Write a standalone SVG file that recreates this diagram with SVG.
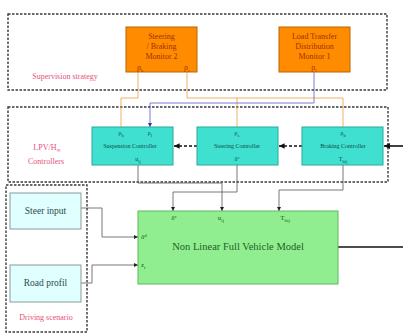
<svg xmlns="http://www.w3.org/2000/svg" width="403" height="336" viewBox="0 0 403 336">
<style>
.frame{fill:none;stroke:#3a3a3a;stroke-width:1.4;stroke-dasharray:2.5,1.5}
.mon{fill:#ff8c00;stroke:#b86500;stroke-width:1}
.ctl{fill:#40e0d0;stroke:#2aa89a;stroke-width:1}
.veh{fill:#90ee90;stroke:#5cb85c;stroke-width:1}
.inp{fill:#e0ffff;stroke:#8a9a9a;stroke-width:1}
.t{font-family:"Liberation Serif","DejaVu Serif",serif;text-anchor:middle}
.mt{fill:#a03000;font-size:8px}
.ct{fill:#0b4d46;font-size:6px}
.vt{fill:#1d5e1d}
.it{fill:#2e4b4b;font-size:9.5px}
.lab{fill:#e8507a;font-size:8px}
.w{fill:none;stroke:#555;stroke-width:0.8}
.wo{fill:none;stroke:#e8a040;stroke-width:0.8}
.wb{fill:none;stroke:#5a5ad0;stroke-width:0.8}
.thick{fill:none;stroke:#111;stroke-width:1.6}
.dash{fill:none;stroke:#111;stroke-width:1.4;stroke-dasharray:3,2}
</style>
<defs>
<marker id="ah" viewBox="0 0 10 10" refX="10" refY="5" markerWidth="5" markerHeight="5" orient="auto"><path d="M0,0L10,5L0,10z" fill="#222"/></marker>
<marker id="ahb" viewBox="0 0 10 10" refX="10" refY="5" markerWidth="5" markerHeight="5" orient="auto"><path d="M0,0L10,5L0,10z" fill="#3030a0"/></marker>
<marker id="ahk" viewBox="0 0 10 10" refX="10" refY="5" markerWidth="4" markerHeight="4" orient="auto"><path d="M0,0L10,5L0,10z" fill="#111"/></marker>
</defs>

<g id="frames">
<rect class="frame" x="8" y="14" width="379" height="76"/>
<rect class="frame" x="8" y="107" width="380" height="75"/>
<rect class="frame" x="6" y="185" width="81" height="147"/>
<text class="t lab" x="65" y="79" font-size="7.5">Supervision strategy</text>
<text class="t lab" x="47" y="150" font-size="8.5">LPV/H<tspan font-size="6" dy="2">∞</tspan></text>
<text class="t lab" x="46" y="164">Controllers</text>
<text class="t lab" x="46" y="320">Driving scenario</text>
</g>

<g id="connectors">
<polyline class="wo" points="138,72 138,98 121,98 121,127"/>
<polyline class="wo" points="187,72 187,98 343,98 343,127"/>
<line class="wo" x1="237" y1="98" x2="237" y2="127"/>
<polyline class="wb" points="314,72 314,103 150,103 150,127" marker-end="url(#ahb)"/>
<line class="dash" x1="197" y1="146" x2="174" y2="146" marker-end="url(#ahk)"/>
<line class="dash" x1="302" y1="146" x2="279" y2="146" marker-end="url(#ahk)"/>
<line class="thick" x1="403" y1="146" x2="384" y2="146" marker-end="url(#ahk)"/>
<polyline class="w" points="138,165 138,183 222,183 222,211" marker-end="url(#ah)"/>
<polyline class="w" points="237,165 237,192 173,192 173,211" marker-end="url(#ah)"/>
<polyline class="w" points="343,165 343,190 279,190 279,211" marker-end="url(#ah)"/>
<polyline class="w" points="81,208 102,208 102,237 138,237" marker-end="url(#ah)"/>
<polyline class="w" points="81,283 92,283 92,265 138,265" marker-end="url(#ah)"/>
<line class="thick" x1="338" y1="247" x2="403" y2="247"/>
</g>

<g id="monitor2">
<rect class="mon" x="126" y="27" width="71" height="45"/>
<text class="t mt" x="161.5" y="39">Steering</text>
<text class="t mt" x="161.5" y="49">/ Braking</text>
<text class="t mt" x="161.5" y="59">Monitor 2</text>
<text class="t mt" x="140" y="70" font-size="6">ρ<tspan font-size="4.5" dy="1.5">b</tspan></text>
<text class="t mt" x="187" y="70" font-size="6">ρ<tspan font-size="4.5" dy="1.5">s</tspan></text>
</g>

<g id="monitor1">
<rect class="mon" x="279" y="27" width="71" height="45"/>
<text class="t mt" x="314.5" y="39">Load Transfer</text>
<text class="t mt" x="314.5" y="49">Distribution</text>
<text class="t mt" x="314.5" y="59">Monitor 1</text>
<text class="t mt" x="314" y="70" font-size="6">ρ<tspan font-size="4.5" dy="1.5">l</tspan></text>
</g>

<g id="suspension">
<rect class="ctl" x="92" y="127" width="81" height="38"/>
<text class="t ct" x="121" y="135">ρ<tspan font-size="4.5" dy="1.5">b</tspan></text>
<text class="t ct" x="150" y="135">ρ<tspan font-size="4.5" dy="1.5">l</tspan></text>
<text class="t ct" x="130" y="148">Suspension Controller</text>
<text class="t ct" x="138" y="161">u<tspan font-size="4.5" dy="1.5">ij</tspan></text>
</g>

<g id="steering">
<rect class="ctl" x="197" y="127" width="81" height="38"/>
<text class="t ct" x="237" y="135">ρ<tspan font-size="4.5" dy="1.5">s</tspan></text>
<text class="t ct" x="237" y="148">Steering Controller</text>
<text class="t ct" x="237" y="161">δ<tspan font-size="4.5" dy="-2.5">c</tspan></text>
</g>

<g id="braking">
<rect class="ctl" x="302" y="127" width="81" height="38"/>
<text class="t ct" x="343" y="135">ρ<tspan font-size="4.5" dy="1.5">b</tspan></text>
<text class="t ct" x="343" y="148">Braking Controller</text>
<text class="t ct" x="343" y="161">T<tspan font-size="4.5" dy="1.5">bij</tspan></text>
</g>

<g id="vehicle">
<rect class="veh" x="138" y="211" width="200" height="73"/>
<text class="t vt" x="174" y="220" font-size="7">δ<tspan font-size="5" dy="-2.5">c</tspan></text>
<text class="t vt" x="221" y="220" font-size="7">u<tspan font-size="5" dy="1.5">ij</tspan></text>
<text class="t vt" x="285" y="220" font-size="7">T<tspan font-size="5" dy="1.5">bij</tspan></text>
<text class="vt" x="141" y="239" font-family="Liberation Serif,serif" font-size="7">δ<tspan font-size="5" dy="-2.5">d</tspan></text>
<text class="vt" x="141" y="267" font-family="Liberation Serif,serif" font-size="7">z<tspan font-size="5" dy="1.5">r</tspan></text>
<text class="t vt" x="238" y="250" font-size="10.5">Non Linear Full Vehicle Model</text>
</g>

<g id="steer-input">
<rect class="inp" x="10" y="193" width="71" height="36"/>
<text class="t it" x="45.5" y="214">Steer input</text>
</g>

<g id="road-profil">
<rect class="inp" x="10" y="265" width="71" height="37"/>
<text class="t it" x="45.5" y="286">Road profil</text>
</g>
</svg>
